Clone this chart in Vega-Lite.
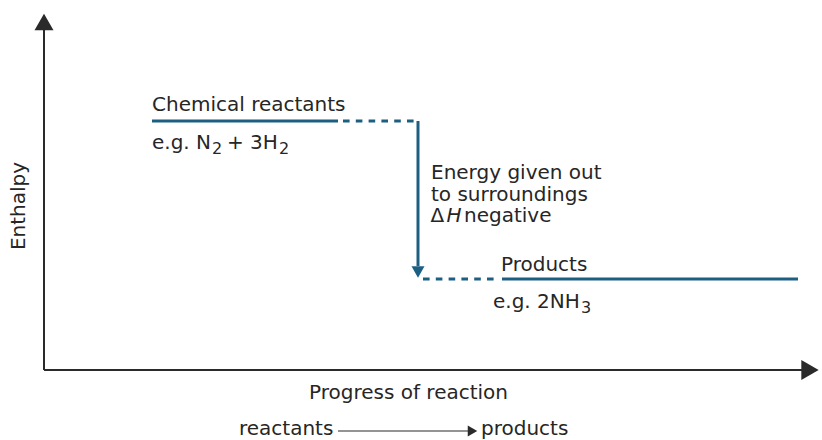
{
  "$schema": "https://vega.github.io/schema/vega-lite/v6.json",
  "width": 822,
  "height": 440,
  "padding": 0,
  "autosize": {"type": "none"},
  "background": "white",
  "config": {"view": {"stroke": null}},
  "datasets": {
    "axes": [
      {"name": "enthalpy", "x": 0, "y": 0, "x2": 0, "y2": 345},
      {"name": "progress", "x": 0, "y": 0, "x2": 761, "y2": 0}
    ],
    "heads": [
      {"name": "enthalpy", "x": 0, "y": 348},
      {"name": "progress", "x": 766, "y": 0},
      {"name": "energy", "x": 374, "y": 98},
      {"name": "key", "x": 428.5, "y": -61}
    ],
    "levels": [
      {"name": "reactants", "x": 108, "x2": 294, "y": 249},
      {"name": "products", "x": 458, "x2": 754, "y": 91}
    ],
    "connectors": [
      {"name": "reactants", "x": 299, "x2": 374, "y": 249},
      {"name": "products", "x": 379, "x2": 451, "y": 91}
    ],
    "drop": [
      {"name": "energy", "x": 374, "y": 249, "y2": 104}
    ],
    "keyline": [
      {"name": "key", "x": 294, "x2": 425, "y": -61}
    ],
    "labels": [
      {"label": "Chemical reactants", "x": 108, "y": 259},
      {"label": "e.g. N", "x": 108, "y": 221},
      {"label": "+ 3H", "x": 183, "y": 221},
      {"label": "Energy given out", "x": 387, "y": 191},
      {"label": "to surroundings", "x": 387, "y": 169.5},
      {"label": "Δ", "x": 386.5, "y": 148},
      {"label": "negative", "x": 420, "y": 148},
      {"label": "Products", "x": 457, "y": 99},
      {"label": "e.g. 2NH", "x": 449, "y": 62.5},
      {"label": "reactants", "x": 195, "y": -65},
      {"label": "products", "x": 437, "y": -65}
    ],
    "subscripts": [
      {"label": "2", "x": 168, "y": 216},
      {"label": "2", "x": 235, "y": 216},
      {"label": "3", "x": 537, "y": 57.5}
    ],
    "italic": [
      {"label": "H", "x": 402.5, "y": 148}
    ],
    "xtitle": [
      {"label": "Progress of reaction", "x": 364.5, "y": -29}
    ],
    "ytitle": [
      {"label": "Enthalpy", "x": -25, "y": 164}
    ]
  },
  "layer": [
    {
      "data": {"name": "axes"},
      "mark": {"type": "rule", "stroke": "#2a2a2a", "strokeWidth": 2},
      "encoding": {
        "x": {"field": "x", "type": "quantitative", "scale": {"domain": [-44, 778], "nice": false, "zero": false}, "axis": null},
        "x2": {"field": "x2"},
        "y": {"field": "y", "type": "quantitative", "scale": {"domain": [-70, 370], "nice": false, "zero": false}, "axis": null},
        "y2": {"field": "y2"}
      }
    },
    {
      "data": {"name": "heads"},
      "transform": [{"filter": "datum.name === 'enthalpy'"}],
      "mark": {"type": "point", "shape": "triangle-up", "size": 361, "filled": true, "fill": "#2a2a2a", "opacity": 1, "strokeWidth": 0},
      "encoding": {
        "x": {"field": "x", "type": "quantitative", "scale": {"domain": [-44, 778], "nice": false, "zero": false}, "axis": null},
        "y": {"field": "y", "type": "quantitative", "scale": {"domain": [-70, 370], "nice": false, "zero": false}, "axis": null}
      }
    },
    {
      "data": {"name": "heads"},
      "transform": [{"filter": "datum.name === 'progress'"}],
      "mark": {"type": "point", "shape": "triangle-right", "size": 400, "filled": true, "fill": "#2a2a2a", "opacity": 1, "strokeWidth": 0},
      "encoding": {
        "x": {"field": "x", "type": "quantitative", "scale": {"domain": [-44, 778], "nice": false, "zero": false}, "axis": null},
        "y": {"field": "y", "type": "quantitative", "scale": {"domain": [-70, 370], "nice": false, "zero": false}, "axis": null}
      }
    },
    {
      "data": {"name": "heads"},
      "transform": [{"filter": "datum.name === 'key'"}],
      "mark": {"type": "point", "shape": "triangle-right", "size": 120, "filled": true, "fill": "#2a2a2a", "opacity": 1, "strokeWidth": 0},
      "encoding": {
        "x": {"field": "x", "type": "quantitative", "scale": {"domain": [-44, 778], "nice": false, "zero": false}, "axis": null},
        "y": {"field": "y", "type": "quantitative", "scale": {"domain": [-70, 370], "nice": false, "zero": false}, "axis": null}
      }
    },
    {
      "data": {"name": "keyline"},
      "mark": {"type": "rule", "stroke": "#2a2a2a", "strokeWidth": 1.2},
      "encoding": {
        "x": {"field": "x", "type": "quantitative", "scale": {"domain": [-44, 778], "nice": false, "zero": false}, "axis": null},
        "x2": {"field": "x2"},
        "y": {"field": "y", "type": "quantitative", "scale": {"domain": [-70, 370], "nice": false, "zero": false}, "axis": null}
      }
    },
    {
      "data": {"name": "levels"},
      "mark": {"type": "rule", "stroke": "#1d5f83", "strokeWidth": 3},
      "encoding": {
        "x": {"field": "x", "type": "quantitative", "scale": {"domain": [-44, 778], "nice": false, "zero": false}, "axis": null},
        "x2": {"field": "x2"},
        "y": {"field": "y", "type": "quantitative", "scale": {"domain": [-70, 370], "nice": false, "zero": false}, "axis": null}
      }
    },
    {
      "data": {"name": "connectors"},
      "mark": {"type": "rule", "stroke": "#1d5f83", "strokeWidth": 3, "strokeDash": [6.6, 6.2], "strokeCap": "butt"},
      "encoding": {
        "x": {"field": "x", "type": "quantitative", "scale": {"domain": [-44, 778], "nice": false, "zero": false}, "axis": null},
        "x2": {"field": "x2"},
        "y": {"field": "y", "type": "quantitative", "scale": {"domain": [-70, 370], "nice": false, "zero": false}, "axis": null}
      }
    },
    {
      "data": {"name": "drop"},
      "mark": {"type": "rule", "stroke": "#1d5f83", "strokeWidth": 3},
      "encoding": {
        "x": {"field": "x", "type": "quantitative", "scale": {"domain": [-44, 778], "nice": false, "zero": false}, "axis": null},
        "y": {"field": "y", "type": "quantitative", "scale": {"domain": [-70, 370], "nice": false, "zero": false}, "axis": null},
        "y2": {"field": "y2"}
      }
    },
    {
      "data": {"name": "heads"},
      "transform": [{"filter": "datum.name === 'energy'"}],
      "mark": {"type": "point", "shape": "triangle-down", "size": 169, "filled": true, "fill": "#1d5f83", "opacity": 1, "strokeWidth": 0},
      "encoding": {
        "x": {"field": "x", "type": "quantitative", "scale": {"domain": [-44, 778], "nice": false, "zero": false}, "axis": null},
        "y": {"field": "y", "type": "quantitative", "scale": {"domain": [-70, 370], "nice": false, "zero": false}, "axis": null}
      }
    },
    {
      "data": {"name": "labels"},
      "mark": {"type": "text", "font": "DejaVu Sans", "fontSize": 20, "align": "left", "baseline": "alphabetic", "fill": "#262626"},
      "encoding": {
        "x": {"field": "x", "type": "quantitative", "scale": {"domain": [-44, 778], "nice": false, "zero": false}, "axis": null},
        "y": {"field": "y", "type": "quantitative", "scale": {"domain": [-70, 370], "nice": false, "zero": false}, "axis": null},
        "text": {"field": "label"}
      }
    },
    {
      "data": {"name": "subscripts"},
      "mark": {"type": "text", "font": "DejaVu Sans", "fontSize": 16, "align": "left", "baseline": "alphabetic", "fill": "#262626"},
      "encoding": {
        "x": {"field": "x", "type": "quantitative", "scale": {"domain": [-44, 778], "nice": false, "zero": false}, "axis": null},
        "y": {"field": "y", "type": "quantitative", "scale": {"domain": [-70, 370], "nice": false, "zero": false}, "axis": null},
        "text": {"field": "label"}
      }
    },
    {
      "data": {"name": "italic"},
      "mark": {"type": "text", "font": "DejaVu Sans", "fontSize": 20, "fontStyle": "italic", "align": "left", "baseline": "alphabetic", "fill": "#262626"},
      "encoding": {
        "x": {"field": "x", "type": "quantitative", "scale": {"domain": [-44, 778], "nice": false, "zero": false}, "axis": null},
        "y": {"field": "y", "type": "quantitative", "scale": {"domain": [-70, 370], "nice": false, "zero": false}, "axis": null},
        "text": {"field": "label"}
      }
    },
    {
      "data": {"name": "xtitle"},
      "mark": {"type": "text", "font": "DejaVu Sans", "fontSize": 20, "align": "center", "baseline": "alphabetic", "fill": "#262626"},
      "encoding": {
        "x": {"field": "x", "type": "quantitative", "scale": {"domain": [-44, 778], "nice": false, "zero": false}, "axis": null},
        "y": {"field": "y", "type": "quantitative", "scale": {"domain": [-70, 370], "nice": false, "zero": false}, "axis": null},
        "text": {"field": "label"}
      }
    },
    {
      "data": {"name": "ytitle"},
      "mark": {"type": "text", "font": "DejaVu Sans", "fontSize": 20, "align": "center", "baseline": "middle", "angle": 270, "fill": "#262626"},
      "encoding": {
        "x": {"field": "x", "type": "quantitative", "scale": {"domain": [-44, 778], "nice": false, "zero": false}, "axis": null},
        "y": {"field": "y", "type": "quantitative", "scale": {"domain": [-70, 370], "nice": false, "zero": false}, "axis": null},
        "text": {"field": "label"}
      }
    }
  ]
}
